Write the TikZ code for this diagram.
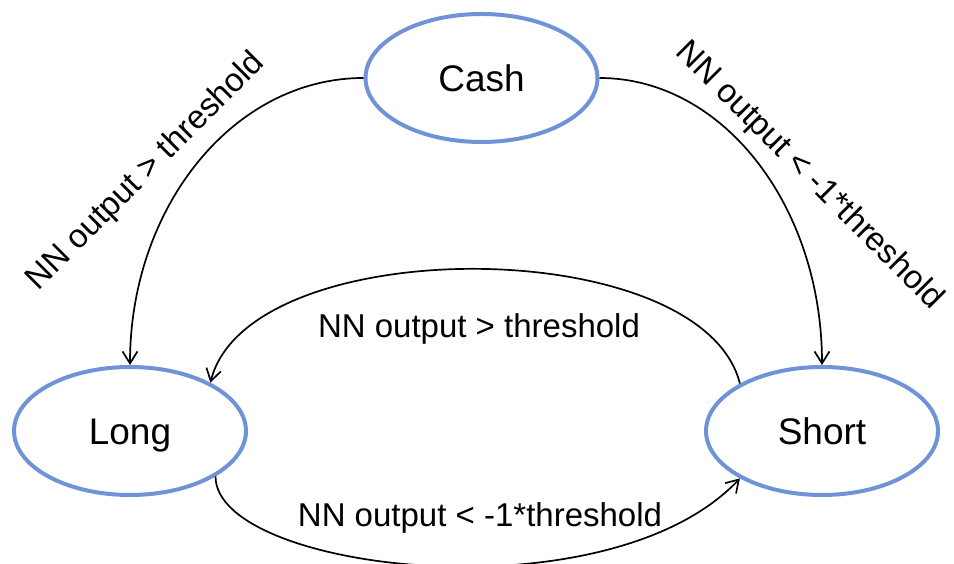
\documentclass[tikz,border=0pt]{standalone}
\usepackage{fontspec}
\setmainfont{Liberation Sans}
\usetikzlibrary{shapes.geometric,arrows.meta}
\definecolor{stateblue}{RGB}{112,146,214}
\tikzset{
  state/.style={ellipse, draw=stateblue, line width=4pt, fill=white,
    inner sep=0pt, minimum width=232pt, minimum height=128pt,
    text height=27pt, text depth=0pt,
    font=\fontsize{37}{42}\selectfont},
  trans/.style={draw=black, line width=1.7pt,
    -{Straight Barb[length=12pt,width=15pt,line width=1.7pt]}},
  cond/.style={font=\fontsize{33}{38}\selectfont, inner sep=0pt,
    text height=24pt, text depth=7pt}
}
\begin{document}
\begin{tikzpicture}[x=1pt,y=1pt]
\useasboundingbox (0,0) rectangle (954,564);

% states
\node[state] (cash)  at (481.5,486) {Cash};
\node[state] (long)  at (130,133)   {Long};
\node[state] (short) at (822,133)   {Short};

% transitions
\draw[trans] (cash.west) .. controls +(-130,0) and +(0,158) .. (long.north);
\draw[trans] (cash.east) .. controls +(124,0) and +(0,158) .. (short.north);
\draw[trans] (short.150) .. controls +(-38,152) and +(38,152) .. (long.31);
\draw[trans] (long.-28) .. controls +(0,-95) and +(-132,-140) .. (short.210);

% transition conditions
\node[cond, rotate=45]  (lcond) at (146,392) {NN output > threshold};
\node[cond, rotate=-45] (rcond) at (809,388) {NN output < -1*threshold};
\node[cond] (tcond) at (479,234.5) {NN output > threshold};
\node[cond] (bcond) at (480,45.5)  {NN output < -1*threshold};
\end{tikzpicture}
\end{document}
